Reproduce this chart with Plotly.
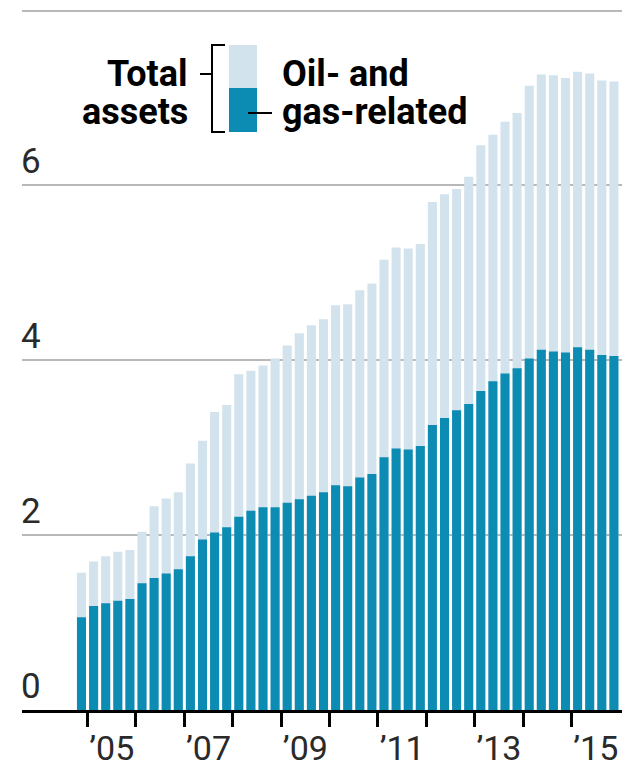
import plotly.graph_objects as go

# ---- data (USD trillions, quarterly, Q4 2004 .. Q4 2015) ----
quarters = ["2004Q4"] + [f"{y}Q{q}" for y in range(2005, 2016) for q in range(1, 5)]
total_assets = [1.57, 1.70, 1.76, 1.81, 1.83, 2.04, 2.33, 2.42, 2.49, 2.82,
                3.08, 3.41, 3.49, 3.84, 3.88, 3.94, 4.02, 4.17, 4.31, 4.40,
                4.47, 4.63, 4.64, 4.80, 4.88, 5.15, 5.29, 5.28, 5.33, 5.81,
                5.90, 5.96, 6.10, 6.46, 6.58, 6.73, 6.83, 7.14, 7.27, 7.26,
                7.23, 7.30, 7.28, 7.20, 7.19]
oil_gas = [1.06, 1.19, 1.22, 1.25, 1.27, 1.45, 1.51, 1.56, 1.61, 1.76,
           1.95, 2.03, 2.09, 2.21, 2.28, 2.32, 2.32, 2.37, 2.41, 2.45,
           2.49, 2.57, 2.56, 2.66, 2.70, 2.89, 2.99, 2.98, 3.02, 3.26,
           3.34, 3.43, 3.50, 3.65, 3.76, 3.85, 3.91, 4.02, 4.12, 4.10,
           4.09, 4.15, 4.12, 4.06, 4.05]
label_years = [2005, 2007, 2009, 2011, 2013, 2015]
year_labels = ["\u201905", "\u201907", "\u201909", "\u201911", "\u201913", "\u201915"]
y_ticks = [0, 2, 4, 6, 8]
y_ticktext = ["0", "2", "4", "6", ""]

LIGHT = "#d3e3ed"
DARK = "#0d8cb3"
FONT = "Roboto, Liberation Sans, sans-serif"

xs = list(range(len(quarters)))
q1_index = {int(q[:4]): i for i, q in enumerate(quarters) if q.endswith("Q1")}
label_pos = [q1_index[y] + 1.5 for y in label_years]
boundaries = [q1_index[y] - 0.5 for y in sorted(q1_index)]

# page has an 8px body margin: the figure is drawn from (8, 8) of the window
OFF = 8
W, H = 630 - OFF, 767 - OFF
ML, MR, MT, MB = 22 - OFF, 0, 0, 57
PW, PH = W - ML - MR, H - MT - MB

def px(x):  # window pixel -> paper
    return (x - OFF - ML) / PW

def py(y):  # window pixel -> paper
    return (H - MB - (y - OFF)) / PH

fig = go.Figure()
fig.add_trace(go.Bar(x=xs, y=total_assets, marker=dict(color=LIGHT, line=dict(width=0)),
                     name="Total assets", customdata=quarters,
                     hovertemplate="%{customdata}: %{y}<extra></extra>"))
fig.add_trace(go.Bar(x=xs, y=oil_gas, marker=dict(color=DARK, line=dict(width=0)),
                     name="Oil- and gas-related", customdata=quarters,
                     hovertemplate="%{customdata}: %{y}<extra></extra>"))

shapes = [
    dict(type="rect", xref="paper", yref="paper", x0=px(229), x1=px(257), y0=py(88), y1=py(45),
         fillcolor=LIGHT, line=dict(width=0)),
    dict(type="rect", xref="paper", yref="paper", x0=px(229), x1=px(257), y0=py(132), y1=py(88),
         fillcolor=DARK, line=dict(width=0)),
    dict(type="path", xref="paper", yref="paper",
         path=f"M {px(225)},{py(45)} L {px(212)},{py(45)} L {px(212)},{py(132)} L {px(225)},{py(132)}",
         line=dict(color="black", width=2)),
    dict(type="line", xref="paper", yref="paper", x0=px(200), x1=px(211), y0=py(74), y1=py(74),
         line=dict(color="black", width=2)),
    dict(type="line", xref="paper", yref="paper", x0=px(248), x1=px(272), y0=py(113), y1=py(113),
         line=dict(color="black", width=2)),
]

def txt(t, x, y, anchor):
    return dict(text=t, xref="paper", yref="paper", x=px(x), y=py(y),
                xanchor=anchor, yanchor="middle", showarrow=False,
                font=dict(family=FONT, size=36, color="black", weight=700))

annotations = [
    txt("Total", 190, 74, "right"),
    txt("assets", 190, 112, "right"),
    txt("Oil- and", 280, 74, "left"),
    txt("gas-related", 280, 112, "left"),
]

fig.update_layout(
    width=W, height=H, margin=dict(l=ML, r=MR, t=MT, b=MB),
    paper_bgcolor="white", plot_bgcolor="white",
    barmode="overlay", bargap=0.25, showlegend=False,
    shapes=shapes, annotations=annotations,
    font=dict(family=FONT, color="#222"),
    xaxis=dict(range=[-4.917, 45.33], showgrid=False, zeroline=False,
               showline=True, linecolor="black", linewidth=2.5,
               tickmode="array", tickvals=label_pos, ticktext=year_labels, ticks="",
               ticklabelstandoff=6,
               tickfont=dict(family=FONT, size=34, color="#2a2a2a", weight=400),
               minor=dict(tickmode="array", tickvals=boundaries, ticks="outside",
                          ticklen=14, tickwidth=2.5, tickcolor="black", showgrid=False)),
    yaxis=dict(range=[0, 8.03], tickmode="array", tickvals=y_ticks, ticktext=y_ticktext,
               ticklabelposition="inside top", ticklabelstandoff=-4,
               ticks="", showline=False, zeroline=False,
               showgrid=True, gridcolor="#b8b8b8", gridwidth=2,
               tickfont=dict(family=FONT, size=35, color="#2a2a2a", weight=400)),
)

fig.write_html("out.html")
